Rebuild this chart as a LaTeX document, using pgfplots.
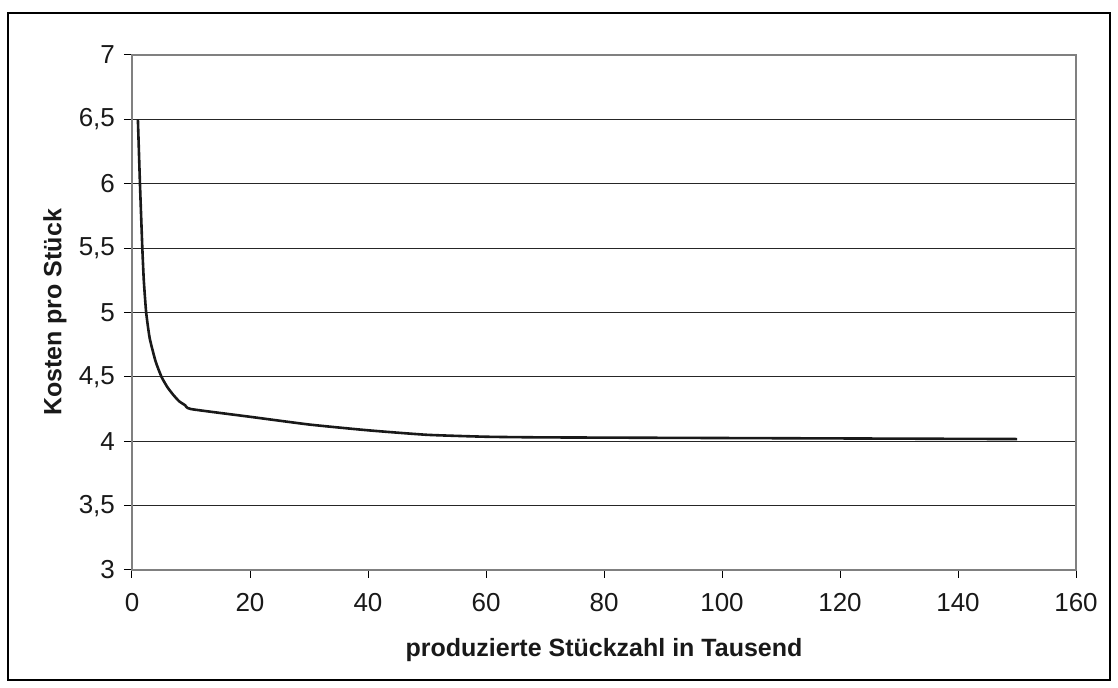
\documentclass[border=0pt]{standalone}
\usepackage{fontspec}
\setmainfont{Liberation Sans}
\usepackage{pgfplots}
\pgfplotsset{compat=1.18}
\begin{document}
\begin{tikzpicture}
\begin{axis}[
    name=ax,
    scale only axis,
    width=472pt, height=257.5pt,
    xmin=0, xmax=160, ymin=3, ymax=7,
    xtick={0,20,...,160},
    ytick={3,3.5,...,7},
    tick align=outside,
    xtick pos=left, ytick pos=left,
    major tick length=4pt,
    tick style={black, line width=0.5pt},
    ymajorgrids,
    grid style={black!85, line width=0.5pt},
    axis line style={black!50, line width=1pt},
    /pgf/number format/assume math mode=true,
    /pgf/number format/use comma,
    tick label style={font=\fontsize{13}{15}\selectfont, text=black!90},
    xticklabel style={yshift=-4pt},
    yticklabel style={xshift=-1pt},
    every axis x label/.style={at={(axis description cs:0.5,0)}, yshift=-40pt, anchor=center},
    every axis y label/.style={at={(axis description cs:0,0.5)}, xshift=-38.5pt, rotate=90, anchor=center},
    label style={font=\fontsize{12.5}{14}\selectfont\bfseries, text=black!90},
    xlabel={produzierte Stückzahl in Tausend},
    ylabel={Kosten pro Stück},
]
\addplot[black!90, line width=1.3pt, smooth, tension=0.3] coordinates {
    (1,6.5) (1.35,6.0) (1.75,5.5) (2,5.25) (2.4,5.0) (3,4.8) (4,4.62)
    (5,4.5) (6,4.42) (7,4.36) (8,4.31) (9,4.28) (10,4.25)
    (20,4.19) (30,4.13) (40,4.085) (50,4.05) (60,4.035) (70,4.03)
    (100,4.025) (150,4.017)
};
\end{axis}
\draw[black, line width=0.6pt] ([xshift=-62pt,yshift=-55pt]ax.south west) rectangle ([xshift=17pt,yshift=21pt]ax.north east);
\path[use as bounding box] ([xshift=-66pt,yshift=-59pt]ax.south west) rectangle ([xshift=21pt,yshift=27.5pt]ax.north east);
\end{tikzpicture}
\end{document}
